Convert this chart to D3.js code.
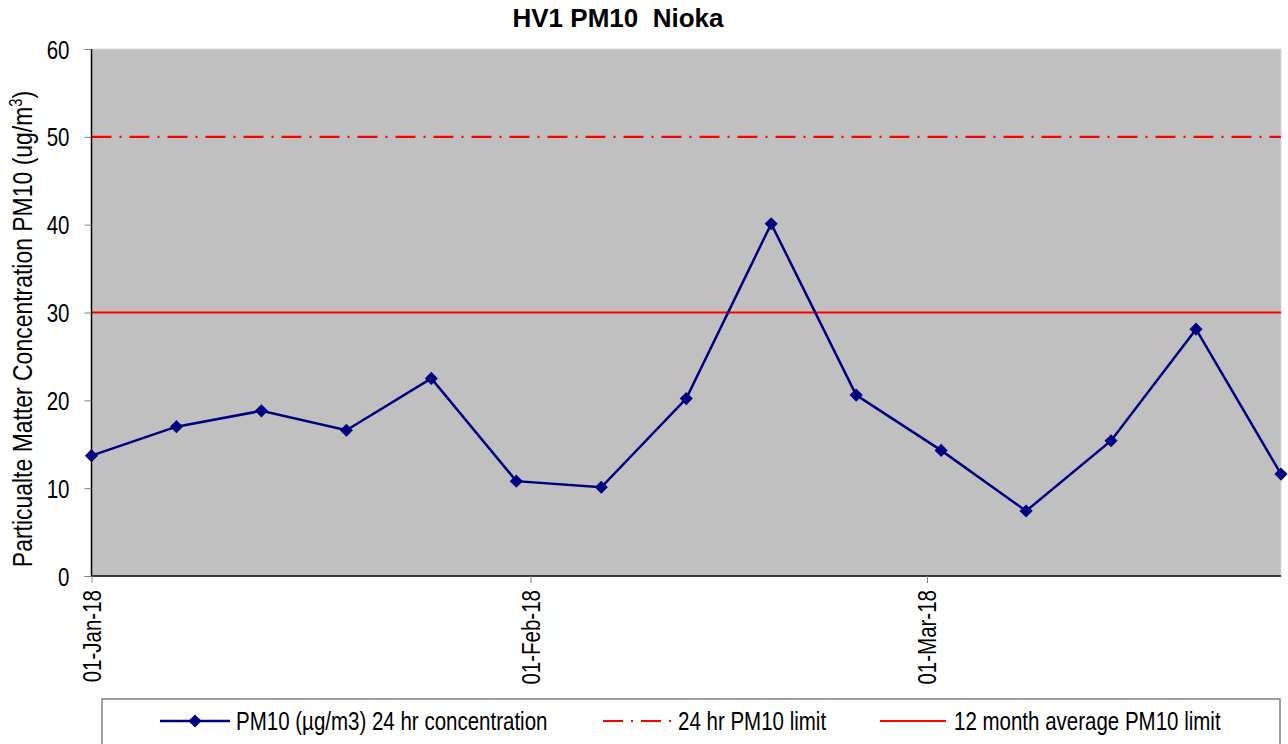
<!DOCTYPE html>
<html><head><meta charset="utf-8">
<script src="https://cdn.jsdelivr.net/npm/d3@7/dist/d3.min.js"></script>
<style>body{margin:0;background:#fff}</style>
</head><body>
<svg id="c" width="1288" height="744"></svg>
<script>
const dates = ["2018-01-01","2018-01-07","2018-01-13","2018-01-19","2018-01-25","2018-01-31","2018-02-06","2018-02-12","2018-02-18","2018-02-24","2018-03-02","2018-03-08","2018-03-14","2018-03-20","2018-03-26"];
const pm10 = [13.7,17.0,18.8,16.6,22.5,10.8,10.1,20.2,40.1,20.6,14.3,7.4,15.4,28.1,11.6];
const limit24 = 50;
const limit12m = 30;
const yTicks = [0,10,20,30,40,50,60];
const xTickDates = ["2018-01-01","2018-02-01","2018-03-01"];
const seriesNames = ["PM10 (\u00b5g/m3) 24 hr concentration","24 hr PM10 limit","12 month average PM10 limit"];
const title = "HV1 PM10\u00a0 Nioka";
const yLabel = "Particualte Matter Concentration PM10 (ug/m";

const parse = d3.timeParse("%Y-%m-%d");
const svg = d3.select("#c");
const L=91.5, R=1281, T=49, B=576;
const font = "'Liberation Sans',Arial,sans-serif";
const NS = 0.82; // narrow horizontal scale

const x = d3.scaleTime().domain([parse("2018-01-01"), parse("2018-03-26")]).range([L,R]);
const y = d3.scaleLinear().domain([0,60]).range([B,T]);

svg.append("rect").attr("x",L).attr("y",T).attr("width",R-L).attr("height",B-T)
  .attr("fill","#C0C0C0").attr("stroke","#d9d9d9").attr("stroke-width",1);

// limits
svg.append("line").attr("x1",L).attr("x2",R).attr("y1",y(limit24)).attr("y2",y(limit24))
  .attr("stroke","#FF0000").attr("stroke-width",2.2).attr("stroke-dasharray","20,8,2,8");
svg.append("line").attr("x1",L).attr("x2",R).attr("y1",y(limit12m)).attr("y2",y(limit12m))
  .attr("stroke","#FF0000").attr("stroke-width",2.2);

// axes
const yAxis = d3.axisLeft(y).tickValues(yTicks).tickSize(7).tickPadding(15);
const gy = svg.append("g").attr("transform",`translate(${L},0)`).call(yAxis);
gy.select(".domain").attr("stroke","#000").attr("stroke-width",1.5).attr("d",`M0,${T}V${B}`);
gy.selectAll(".tick line").attr("stroke","#808080");
gy.selectAll(".tick text").attr("font-family",font).attr("font-size",25).attr("fill","#000")
  .attr("x",0).attr("dy","0.36em").attr("transform",`translate(-22,0) scale(${NS},1)`);

const xAxis = d3.axisBottom(x).tickValues(xTickDates.map(parse)).tickFormat(d3.timeFormat("%d-%b-%y")).tickSize(7).tickPadding(4);
const gx = svg.append("g").attr("transform",`translate(0,${B})`).call(xAxis);
gx.select(".domain").attr("stroke","#000").attr("stroke-width",1.5).attr("d",`M${L},0H${R}`);
gx.selectAll(".tick line").attr("stroke","#808080");
gx.selectAll(".tick text").attr("font-family",font).attr("font-size",25).attr("fill","#000")
  .attr("text-anchor","end").attr("dy","0.36em").attr("x",0).attr("y",0)
  .attr("transform",`translate(0,14) rotate(-90) scale(${NS},1)`);

// series
const pts = dates.map((d,i)=>({d:parse(d),v:pm10[i]}));
svg.append("path").datum(pts).attr("fill","none").attr("stroke","#000080").attr("stroke-width",2.5)
  .attr("d",d3.line().x(p=>x(p.d)).y(p=>y(p.v)));
const diamond = d3.symbol().type(d3.symbolDiamond2).size(110);
svg.selectAll(".m").data(pts).join("path").attr("class","m")
  .attr("transform",p=>`translate(${x(p.d)},${y(p.v)})`).attr("d",diamond).attr("fill","#000080");

// title
svg.append("text").attr("x",618).attr("y",27).attr("text-anchor","middle")
  .attr("font-family",font).attr("font-weight","bold").attr("font-size",26).text(title);

// y label
const yl = svg.append("text").attr("transform",`translate(32,329) rotate(-90) scale(${NS},1)`).attr("text-anchor","middle")
  .attr("font-family",font).attr("font-size",28).attr("fill","#000");
yl.append("tspan").text(yLabel);
yl.append("tspan").attr("font-size",18).attr("dy",-10).text("3");
yl.append("tspan").attr("dy",10).text(")");

// legend
svg.append("rect").attr("x",102).attr("y",699).attr("width",1178).attr("height",60).attr("fill","#fff").attr("stroke","#808080").attr("stroke-width",1.5);
const ly = 721;
const lg = svg.append("g");
lg.append("line").attr("x1",160).attr("x2",230).attr("y1",ly).attr("y2",ly).attr("stroke","#000080").attr("stroke-width",2.5);
lg.append("path").attr("transform",`translate(195,${ly})`).attr("d",diamond).attr("fill","#000080");
lg.append("line").attr("x1",603).attr("x2",672).attr("y1",ly).attr("y2",ly).attr("stroke","#FF0000").attr("stroke-width",2.2).attr("stroke-dasharray","20,8,2,8");
lg.append("line").attr("x1",880).attr("x2",946).attr("y1",ly).attr("y2",ly).attr("stroke","#FF0000").attr("stroke-width",2.2);
const lx = [236,678,954];
seriesNames.forEach((s,i)=>{
  lg.append("text").attr("transform",`translate(${lx[i]},${ly}) scale(${NS},1)`).attr("dy","0.36em")
    .attr("font-family",font).attr("font-size",25).text(s);
});
</script>
</body></html>
